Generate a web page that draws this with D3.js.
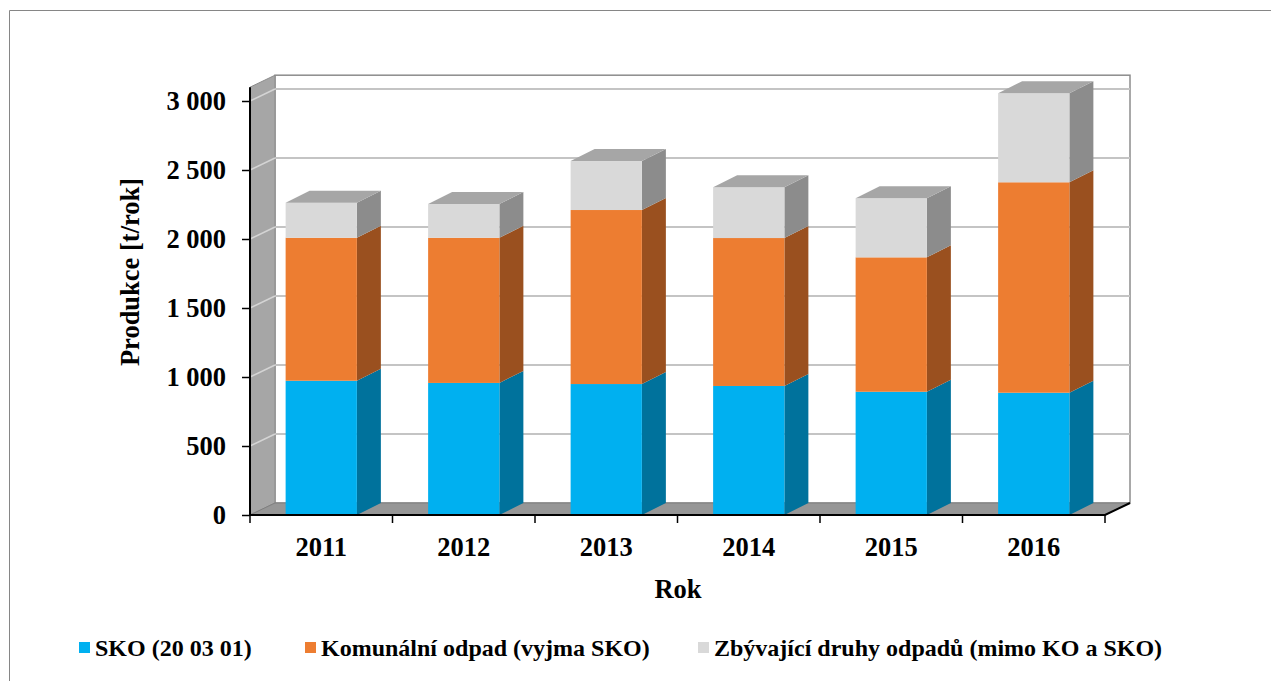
<!DOCTYPE html>
<html>
<head>
<meta charset="utf-8">
<script src="https://cdn.jsdelivr.net/npm/d3@7"></script>
<style>
  body { margin: 0; background: #fff; }
  text { font-family: "Times New Roman", "Liberation Serif", serif; font-weight: bold; fill: #000; }
</style>
</head>
<body>
<div id="chart"></div>
<script>
// data
const years = ['2011', '2012', '2013', '2014', '2015', '2016'];
const sko = [973, 957, 949, 935, 893, 886];
const komunalni = [1036, 1052, 1261, 1072, 974, 1525];
const ostatni = [254, 245, 355, 368, 428, 645];
const yTicks = [0, 500, 1000, 1500, 2000, 2500, 3000];
const seriesNames = ['SKO (20 03 01)', 'Komunální odpad (vyjma SKO)', 'Zbývající druhy odpadů (mimo KO a SKO)'];

const config = {
  width: 1271, height: 681,
  left: 250, right: 1105, bottom: 515, top: 87.2,
  depthX: 25, depthY: -12,
  barDepthX: 24,
  axisFont: 26.5,
  legendFont: 24
};

const colors = [
  {front: '#00b0f0', side: '#00729c', top: '#0090c4'},
  {front: '#ed7d31', side: '#9a501f', top: '#c0651f'},
  {front: '#d9d9d9', side: '#8c8c8c', top: '#a6a6a6'}
];

const rows = years.map((y, i) => ({year: y, s0: sko[i], s1: komunalni[i], s2: ostatni[i]}));
const stack = d3.stack().keys(['s0', 's1', 's2']);
const stacked = stack(rows);

const svg = d3.select('#chart').append('svg')
    .attr('width', config.width)
    .attr('height', config.height);

// outer chart frame (top + left edges visible)
svg.append('path')
    .attr('d', `M9.5,${config.height} V10.5 H${config.width}`)
    .attr('fill', 'none')
    .attr('stroke', '#868686')
    .attr('stroke-width', 1);

const x = d3.scaleBand()
    .domain(years)
    .range([config.left, config.right])
    .paddingInner(0.5)
    .paddingOuter(0.25);

const y = d3.scaleLinear()
    .domain([0, 3100])
    .range([config.bottom, config.top]);

const dx = config.depthX, dy = config.depthY;
const chart = svg.append('g');

// back wall
chart.append('rect')
    .attr('x', config.left + dx)
    .attr('y', y(3100) + dy)
    .attr('width', config.right - config.left)
    .attr('height', config.bottom - y(3100))
    .attr('fill', '#fff')
    .attr('stroke', '#8c8c8c')
    .attr('stroke-width', 1.5);

// left side wall
chart.append('path')
    .attr('d', `M${config.left},${config.bottom} L${config.left},${y(3100)} L${config.left + dx},${y(3100) + dy} L${config.left + dx},${config.bottom + dy} Z`)
    .attr('fill', '#a6a6a6')
    .attr('stroke', '#8c8c8c')
    .attr('stroke-width', 1);

// gridlines: back wall and side wall
chart.selectAll('.grid-back')
    .data(yTicks.filter(d => d > 0))
  .join('line')
    .attr('class', 'grid-back')
    .attr('x1', config.left + dx)
    .attr('x2', config.right + dx)
    .attr('y1', d => y(d) + dy)
    .attr('y2', d => y(d) + dy)
    .attr('stroke', '#c4c4c4')
    .attr('stroke-width', 2);

chart.selectAll('.grid-side')
    .data(yTicks.filter(d => d > 0))
  .join('line')
    .attr('class', 'grid-side')
    .attr('x1', config.left)
    .attr('x2', config.left + dx)
    .attr('y1', d => y(d))
    .attr('y2', d => y(d) + dy)
    .attr('stroke', '#d4d4d4')
    .attr('stroke-width', 1.5);

// floor
chart.append('path')
    .attr('d', `M${config.left},${config.bottom} L${config.left + dx},${config.bottom + dy} L${config.right + dx},${config.bottom + dy} L${config.right},${config.bottom} Z`)
    .attr('fill', '#969696')
    .attr('stroke', '#7f7f7f')
    .attr('stroke-width', 1);

// bars
const bdx = config.barDepthX;
const bars = chart.selectAll('.bar')
    .data(years)
  .join('g')
    .attr('class', 'bar');

stacked.forEach((layer, li) => {
  const c = colors[li];
  bars.each(function(yr, i) {
    const g = d3.select(this);
    const seg = layer[i];
    const x0 = x(yr), x1 = x(yr) + x.bandwidth();
    const yb = y(seg[0]), yt = y(seg[1]);
    // side face
    g.append('path')
        .attr('d', `M${x1},${yb} L${x1 + bdx},${yb + dy} L${x1 + bdx},${yt + dy} L${x1},${yt} Z`)
        .attr('fill', c.side);
    // front face
    g.append('rect')
        .attr('x', x0)
        .attr('y', yt)
        .attr('width', x.bandwidth())
        .attr('height', yb - yt)
        .attr('fill', c.front);
    // top face only on the last series
    if (li === stacked.length - 1) {
      g.append('path')
          .attr('d', `M${x0},${yt} L${x0 + bdx},${yt + dy} L${x1 + bdx},${yt + dy} L${x1},${yt} Z`)
          .attr('fill', c.top);
    }
  });
});

// y axis
const fmt = d3.formatLocale({decimal: ',', thousands: '\u00a0', grouping: [3], currency: ['', '']}).format(',');
const yAxis = d3.axisLeft(y)
    .tickValues(yTicks)
    .tickSize(8)
    .tickPadding(16)
    .tickFormat(fmt);

const yAxisG = chart.append('g')
    .attr('transform', `translate(${config.left},0)`)
    .call(yAxis);
yAxisG.select('.domain').attr('stroke', '#000').attr('stroke-width', 2).attr('d', `M0,${config.bottom}V${y(3100)}`);
yAxisG.selectAll('.tick line').attr('stroke', '#000').attr('stroke-width', 1.5);
yAxisG.selectAll('.tick text')
    .attr('font-size', config.axisFont)
    .attr('font-family', '"Times New Roman", "Liberation Serif", serif')
    .attr('font-weight', 'bold')
    .attr('fill', '#000');

// x axis: front floor edge + boundary ticks + labels
chart.append('path')
    .attr('d', `M${config.left},${config.bottom} H${config.right} L${config.right + dx},${config.bottom + dy}`)
    .attr('fill', 'none')
    .attr('stroke', '#000')
    .attr('stroke-width', 2);

chart.selectAll('.x-tick')
    .data(d3.range(years.length + 1))
  .join('line')
    .attr('class', 'x-tick')
    .attr('x1', i => config.left + i * x.step())
    .attr('x2', i => config.left + i * x.step())
    .attr('y1', config.bottom)
    .attr('y2', config.bottom + 8)
    .attr('stroke', '#000')
    .attr('stroke-width', 1.5);

chart.selectAll('.x-label')
    .data(years)
  .join('text')
    .attr('class', 'x-label')
    .attr('x', d => x(d) + x.bandwidth() / 2)
    .attr('y', 556)
    .attr('text-anchor', 'middle')
    .attr('font-size', config.axisFont)
    .text(d => d);

// axis titles
chart.append('text')
    .attr('x', 678)
    .attr('y', 598)
    .attr('text-anchor', 'middle')
    .attr('font-size', config.axisFont)
    .text('Rok');

chart.append('text')
    .attr('transform', 'translate(139,272) rotate(-90)')
    .attr('text-anchor', 'middle')
    .attr('font-size', config.axisFont)
    .text('Produkce [t/rok]');

// legend
const legendX = [79, 305, 698];
const legend = svg.selectAll('.legend-item')
    .data(seriesNames)
  .join('g')
    .attr('class', 'legend-item')
    .attr('transform', (d, i) => `translate(${legendX[i]},648)`);

legend.append('rect')
    .attr('x', 0)
    .attr('y', -6)
    .attr('width', 11)
    .attr('height', 11)
    .attr('fill', (d, i) => colors[i].front);

legend.append('text')
    .attr('x', 16)
    .attr('y', 8)
    .attr('font-size', config.legendFont)
    .text(d => d);
</script>
</body>
</html>
